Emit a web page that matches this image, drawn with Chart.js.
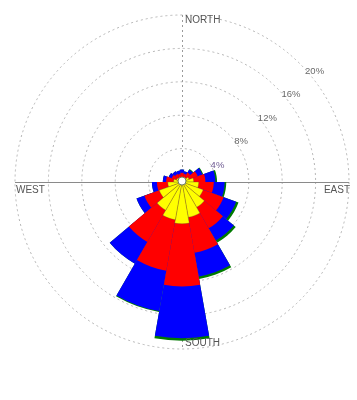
<!DOCTYPE html>
<html>
<head>
<meta charset="utf-8">
<script src="https://cdn.jsdelivr.net/npm/chart.js@4.4.1/dist/chart.umd.min.js"></script>
<style>
  html, body { margin: 0; padding: 0; background: #fff; }
  canvas { display: block; }
</style>
</head>
<body>
<canvas id="rose" width="357" height="400"></canvas>
<script>
// Wind direction sectors, degrees clockwise from north (20° bins)
const directions = [0, 20, 40, 60, 80, 100, 120, 140, 160, 180, 200, 220, 240, 260, 280, 300, 320, 340];

// Frequency of occurrence (%) per sector, one array per wind-speed class
const speedClasses = ['0-2 m/s', '2-4 m/s', '4-6 m/s', '> 6 m/s'];
const freqLow    = [0.6, 0.5, 0.6, 0.9, 1.4, 2.0, 2.7, 3.5, 4.3, 5.0, 4.6, 3.9, 2.9, 1.7, 1.0, 0.7, 0.6, 0.5];
const freqMid    = [0.5, 0.5, 0.7, 1.1, 1.4, 1.8, 2.6, 2.9, 4.3, 7.5, 6.2, 4.4, 1.9, 1.3, 0.9, 0.6, 0.5, 0.5];
const freqHigh   = [0.4, 0.3, 0.4, 0.6, 1.2, 1.3, 1.6, 1.7, 2.9, 6.2, 4.9, 3.0, 1.0, 0.6, 0.4, 0.4, 0.4, 0.4];
const freqStrong = [0.0, 0.0, 0.1, 0.1, 0.2, 0.2, 0.3, 0.3, 0.3, 0.3, 0.1, 0.0, 0.0, 0.0, 0.0, 0.0, 0.0, 0.0];

const classColors = ['#ffff00', '#ff0000', '#0000ff', '#007a00'];

// Rings of the frequency axis
const ringTicks  = [4, 8, 12, 16, 20];
const ringLabels = ['4%', '8%', '12%', '16%', '20%'];
const compassLabels = { north: 'NORTH', east: 'EAST', south: 'SOUTH', west: 'WEST' };

// Stack the classes: each dataset holds the running total, smallest drawn on top
const classSeries = [freqLow, freqMid, freqHigh, freqStrong];
const running = directions.map(() => 0);
const datasets = classSeries.map((series, k) => {
  const cum = series.map((v, i) => (running[i] = +(running[i] + v).toFixed(3)));
  return {
    label: speedClasses[k],
    data: cum,
    backgroundColor: classColors[k],
    borderColor: k === 0 ? 'rgba(90,90,40,0.55)' : classColors[k],
    borderWidth: k === 0 ? 0.6 : 0
  };
});

// Compass cross, drawn under the petals
const crossPlugin = {
  id: 'cross',
  beforeDatasetsDraw(chart) {
    const s = chart.scales.r;
    const ctx = chart.ctx;
    const R = s.drawingArea;
    ctx.save();
    ctx.strokeStyle = '#8a8a8a';
    ctx.lineWidth = 1;
    ctx.beginPath();
    ctx.moveTo(s.xCenter - R, s.yCenter + 0.5);
    ctx.lineTo(s.xCenter + R, s.yCenter + 0.5);
    ctx.stroke();
    ctx.setLineDash([2, 3]);
    ctx.strokeStyle = '#9a9a9a';
    ctx.beginPath();
    ctx.moveTo(s.xCenter + 0.5, s.yCenter - R);
    ctx.lineTo(s.xCenter + 0.5, s.yCenter + R);
    ctx.stroke();
    ctx.restore();
  }
};

// Calm circle, compass words and ring percentages
const labelPlugin = {
  id: 'roseLabels',
  afterDatasetsDraw(chart) {
    const s = chart.scales.r;
    const ctx = chart.ctx;
    const cx = s.xCenter, cy = s.yCenter, R = s.drawingArea;
    ctx.save();
    ctx.fillStyle = '#ffffff';
    ctx.strokeStyle = '#6f7f66';
    ctx.lineWidth = 1;
    ctx.beginPath();
    ctx.arc(cx, cy - 1, 4, 0, Math.PI * 2);
    ctx.fill();
    ctx.stroke();

    ctx.font = '10px "Liberation Sans", Arial, sans-serif';
    ctx.fillStyle = '#555';
    ctx.textBaseline = 'middle';
    ctx.textAlign = 'left';
    ctx.fillText(compassLabels.north, cx + 3, cy - R + 5);
    ctx.fillText(compassLabels.south, cx + 3, cy + R - 6);
    ctx.fillText(compassLabels.west, cx - R + 1, cy + 8);
    ctx.textAlign = 'right';
    ctx.fillText(compassLabels.east, cx + R + 1, cy + 8);

    ctx.font = '9.5px "Liberation Sans", Arial, sans-serif';
    ctx.textAlign = 'left';
    const a = Math.PI / 4;
    ringTicks.forEach((t, i) => {
      const r = s.getDistanceFromCenterForValue(t);
      const x = cx + r * Math.sin(a) + 5;
      const y = cy - r * Math.cos(a) + 7;
      ctx.fillStyle = i === 0 ? '#6e5a92' : '#6a6a6a';
      ctx.fillText(ringLabels[i], x, y);
    });
    ctx.restore();
  }
};

new Chart(document.getElementById('rose'), {
  type: 'polarArea',
  data: { labels: directions.map(d => d + '°'), datasets },
  options: {
    responsive: false,
    animation: false,
    layout: { padding: { left: 15, right: 8, top: 15, bottom: 51 } },
    plugins: { legend: { display: false }, tooltip: { enabled: false } },
    scales: {
      r: {
        min: 0,
        max: 20,
        startAngle: -10,
        ticks: { display: false, stepSize: 4 },
        pointLabels: { display: false },
        angleLines: { display: false },
        grid: { circular: true, color: '#b4b4b4', lineWidth: 1 },
        border: { dash: [2, 3] }
      }
    }
  },
  plugins: [crossPlugin, labelPlugin]
});
</script>
</body>
</html>
